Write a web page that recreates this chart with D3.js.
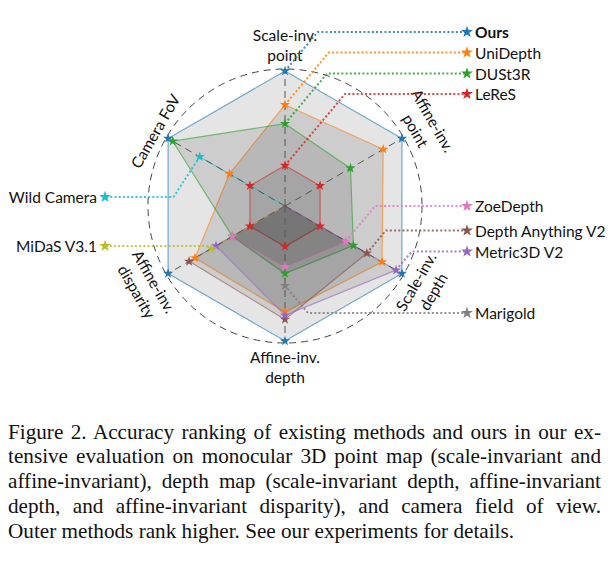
<!DOCTYPE html>
<html>
<head>
<meta charset="utf-8">
<script src="https://cdn.jsdelivr.net/npm/d3@7"></script>
<style>
body { margin: 0; background: #fff; }
svg { display: block; }
.lbl { font-family: Lato, "Open Sans", sans-serif; font-size: 15.5px; fill: #111; }
.cap { font-family: "Liberation Serif", "Times New Roman", serif; font-size: 21.2px; fill: #111; }
</style>
</head>
<body>
<svg id="chart" width="612" height="566"></svg>
<script>
// axes, clockwise from the top
var axisLabels = [["Scale-inv.", "point"], ["Affine-inv.", "point"], ["Scale-inv.", "depth"],
                  ["Affine-inv.", "depth"], ["Affine-inv.", "disparity"], ["Camera FoV"]];

var methods = ["Ours", "UniDepth", "DUSt3R", "LeReS", "ZoeDepth", "Depth Anything V2",
               "Metric3D V2", "Marigold", "Wild Camera", "MiDaS V3.1"];
var colors = ["#1f77b4", "#ff7f0e", "#2ca02c", "#d62728", "#e377c2", "#8c564b",
              "#9467bd", "#7f7f7f", "#17becf", "#bcbd22"];

// normalised score per axis (0 = not evaluated)
var ours       = [1.00, 1.00, 1.00, 1.00, 1.00, 1.00];
var uniDepth   = [0.75, 0.84, 0.83, 0.785, 0.77, 0.475];
var dust3r     = [0.61, 0.56, 0.585, 0.50, 0.45, 0.96];
var leres      = [0.30, 0.30, 0.30, 0.30, 0.30, 0.30];
var zoeDepth   = [0, 0, 0.52, 0.45, 0.45, 0];
var depthAnyV2 = [0, 0, 0.70, 0.84, 0.82, 0];
var metric3dV2 = [0, 0, 0.95, 0.81, 0.59, 0];
var marigold   = [0, 0, 0, 0.59, 0, 0];
var wildCamera = [0, 0, 0, 0, 0, 0.73];
var midas      = [0, 0, 0, 0, 0.63, 0];
var scores = [ours, uniDepth, dust3r, leres, zoeDepth, depthAnyV2, metric3dV2, marigold, wildCamera, midas];

// which axis each leader line starts from
var leaderAxis = [0, 0, 0, 0, 2, 2, 2, 3, 5, 4];

var svg = d3.select("#chart");
var cx = 285, cy = 206, R = 135;
var g = svg.append("g").attr("transform", "translate(" + cx + "," + cy + ")");

var rScale = d3.scaleLinear().domain([0, 1]).range([0, R]);
var angle = d3.scaleLinear().domain([0, axisLabels.length]).range([0, 2 * Math.PI]);

function pt(i, v) {
    var a = angle(i), r = rScale(v);
    return [r * Math.sin(a), -r * Math.cos(a)];
}

// polygons
var radial = d3.lineRadial()
        .angle(function (d, i) { return angle(i); })
        .radius(function (d) { return rScale(d); })
        .curve(d3.curveLinearClosed);

g.selectAll("path.area").data(scores).enter().append("path")
        .attr("class", "area")
        .attr("d", radial)
        .attr("fill", "#000")
        .attr("fill-opacity", 0.1)
        .attr("stroke", function (d, i) { return colors[i]; })
        .attr("stroke-opacity", 0.6)
        .attr("stroke-width", 1.2)
        .attr("stroke-linejoin", "round");

// dashed axes and circle
g.selectAll("line.axis").data(axisLabels).enter().append("line")
        .attr("class", "axis")
        .attr("x1", 0).attr("y1", 0)
        .attr("x2", function (d, i) { return pt(i, 1)[0]; })
        .attr("y2", function (d, i) { return pt(i, 1)[1]; })
        .attr("stroke", "#555")
        .attr("stroke-width", 1)
        .attr("stroke-dasharray", "7,5");

g.append("circle").attr("r", rScale(1.015))
        .attr("fill", "none")
        .attr("stroke", "#444")
        .attr("stroke-width", 1)
        .attr("stroke-dasharray", "7,5");

// axis labels, tangent to the circle
var labelR = 161;
var lab = g.selectAll("g.axlab").data(axisLabels).enter().append("g")
        .attr("class", "axlab")
        .attr("transform", function (d, i) {
            var a = angle(i) * 180 / Math.PI;
            var rot = a <= 90 ? a : (a < 270 ? a - 180 : a - 360);
            var rr = d.length > 1 ? labelR : 150;
            var p = [rr * Math.sin(angle(i)), -rr * Math.cos(angle(i))];
            return "translate(" + p[0] + "," + p[1] + ") rotate(" + rot + ")";
        });
lab.selectAll("text").data(function (d) { return d; }).enter().append("text")
        .attr("class", "lbl")
        .attr("text-anchor", "middle")
        .attr("dominant-baseline", "central")
        .attr("y", function (d, j, nodes) { return nodes.length > 1 ? (j === 0 ? -10 : 10) : 0; })
        .text(function (d) { return d; });

// leader lines and legend
var legendRows = [
    {x: 467, y: 32, side: 1, tilt: 50},
    {x: 467, y: 52.5, side: 1, tilt: 50},
    {x: 467, y: 73.5, side: 1, tilt: 50},
    {x: 467, y: 94, side: 1, tilt: 50},
    {x: 467, y: 206, side: 1, tilt: 50},
    {x: 467, y: 230.5, side: 1, tilt: 50},
    {x: 467, y: 251.5, side: 1, tilt: 50},
    {x: 467, y: 313, side: 1, tilt: 50},
    {x: 105, y: 197, side: -1, tilt: 57},
    {x: 105, y: 246, side: -1, tilt: 50}
];

var star = d3.symbol().type(d3.symbolStar);

methods.forEach(function (m, k) {
    var p = pt(leaderAxis[k], scores[k][leaderAxis[k]]);
    var ax = p[0] + cx, ay = p[1] + cy;
    var row = legendRows[k];
    var bx = ax + row.side * Math.abs(ay - row.y) / Math.tan(row.tilt * Math.PI / 180);
    svg.append("path")
            .attr("d", "M" + ax + "," + ay + "L" + bx + "," + row.y + "L" + row.x + "," + row.y)
            .attr("fill", "none")
            .attr("stroke", colors[k])
            .attr("stroke-opacity", 0.85)
            .attr("stroke-width", 2)
            .attr("stroke-dasharray", "2,2.2");
});

// stars on the polygons
scores.forEach(function (s, k) {
    g.selectAll(null).data(s.map(function (v, i) { return [i, v]; })
            .filter(function (d) { return d[1] > 0; }))
            .enter().append("path")
            .attr("d", star.size(32))
            .attr("transform", function (d) { var p = pt(d[0], d[1]); return "translate(" + p + ")"; })
            .attr("fill", colors[k]);
});

methods.forEach(function (m, k) {
    var row = legendRows[k];
    svg.append("path")
            .attr("d", star.size(44))
            .attr("transform", "translate(" + row.x + "," + row.y + ")")
            .attr("fill", colors[k]);
    svg.append("text")
            .attr("class", "lbl")
            .attr("x", row.x + row.side * 8)
            .attr("y", row.y)
            .attr("dominant-baseline", "central")
            .attr("text-anchor", row.side > 0 ? "start" : "end")
            .attr("font-weight", k === 0 ? "bold" : null)
            .text(m);
});

// caption, justified by word spacing
var captionLines = [
    "Figure 2. Accuracy ranking of existing methods and ours in our ex-",
    "tensive evaluation on monocular 3D point map (scale-invariant and",
    "affine-invariant), depth map (scale-invariant depth, affine-invariant",
    "depth, and affine-invariant disparity), and camera field of view.",
    "Outer methods rank higher. See our experiments for details."
];
var capLeft = 8, capRight = 601, capTop = 438.5, capStep = 24.9;
captionLines.forEach(function (t, i) {
    var txt = svg.append("text").attr("class", "cap")
            .attr("x", capLeft).attr("y", capTop + i * capStep)
            .text(t);
    if (i < captionLines.length - 1) {
        var w = txt.node().getComputedTextLength();
        var gaps = t.split(" ").length - 1;
        txt.attr("word-spacing", (capRight - capLeft - w) / gaps);
    }
});
</script>
</body>
</html>
